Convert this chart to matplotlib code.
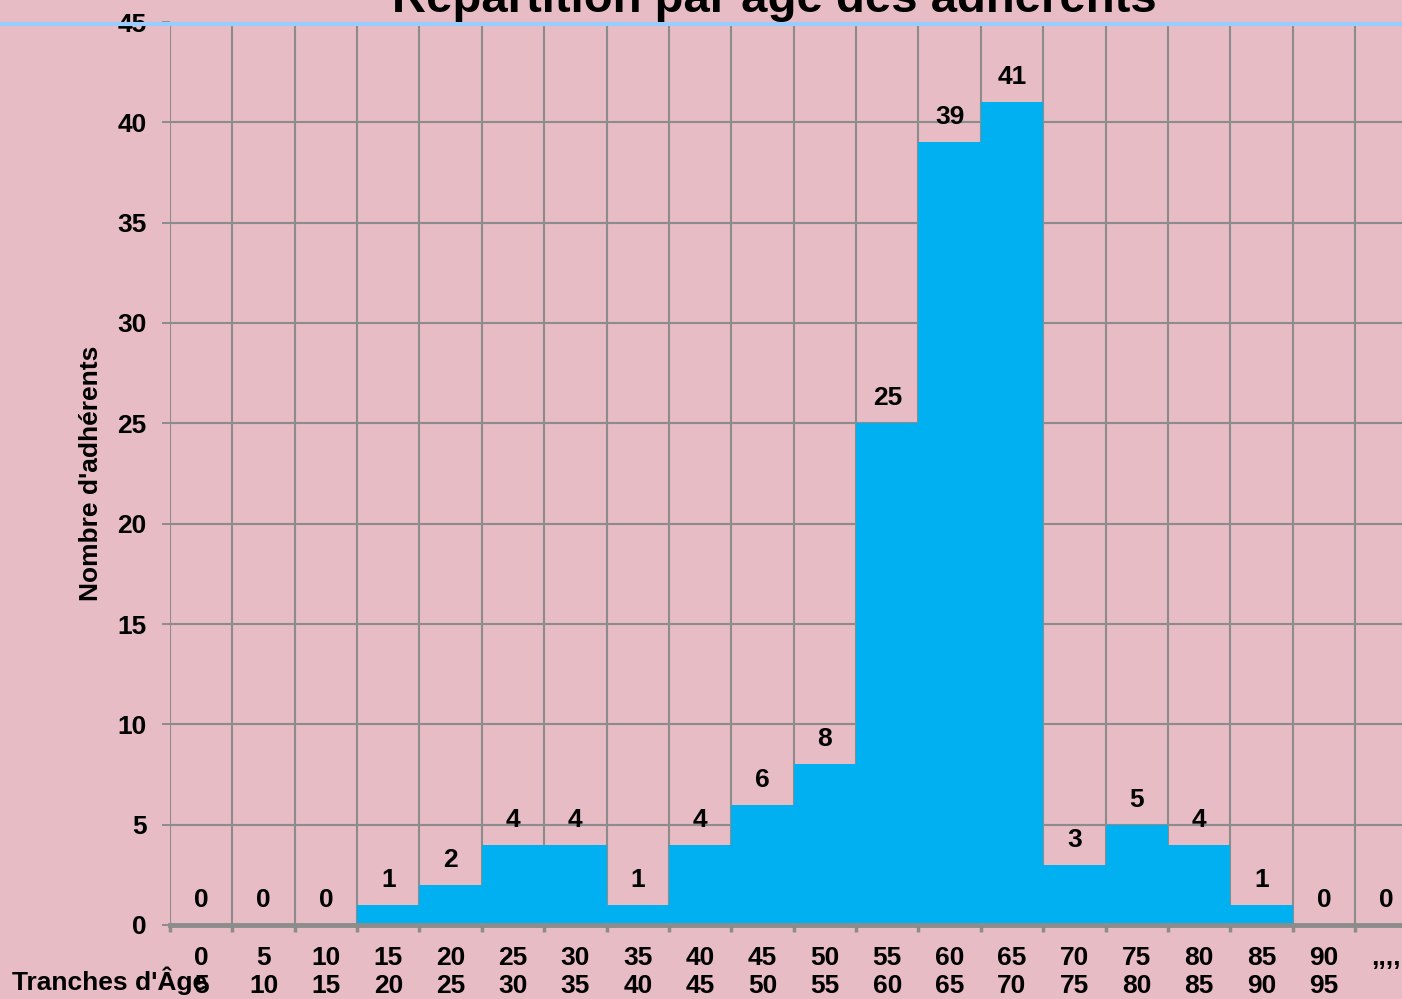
import numpy as np
import matplotlib.pyplot as plt
from matplotlib.lines import Line2D

# age bands and number of members
tranches = ["0\n5", "5\n10", "10\n15", "15\n20", "20\n25", "25\n30", "30\n35",
            "35\n40", "40\n45", "45\n50", "50\n55", "55\n60", "60\n65", "65\n70",
            "70\n75", "75\n80", "80\n85", "85\n90", "90\n95", ",,,,"]
adherents = [0, 0, 0, 1, 2, 4, 4, 1, 4, 6, 8, 25, 39, 41, 3, 5, 4, 1, 0, 0]

pink = "#E7BCC4"
grid_grey = "#8C8C8C"
bar_blue = "#00B0F0"
fs = 19

plt.rcParams["font.family"] = ["Liberation Sans", "DejaVu Sans"]
plt.rcParams["font.weight"] = "bold"

fig = plt.figure(figsize=(14.02, 9.99), dpi=100, facecolor=pink)
ax = fig.add_axes([170 / 1402, 74 / 999, 1247.4 / 1402, 903 / 999])
ax.set_facecolor(pink)
ax.set_axisbelow(True)

x = np.arange(len(adherents))
ax.bar(x, adherents, width=1.0, color=bar_blue, edgecolor="none", zorder=2)

# value labels above each bar
for xi, v in zip(x, adherents):
    ax.annotate(str(v), (xi, v), xytext=(0, 18), textcoords="offset points",
                ha="center", va="center", fontsize=fs, fontweight="bold",
                zorder=3)

ax.set_xlim(-0.5, len(adherents) - 0.5)
ax.set_ylim(0, 45)
ax.set_yticks(np.arange(0, 46, 5))
ax.set_xticks(x)
ax.set_xticklabels(tranches, linespacing=1.22)
ax.set_xticks(np.arange(-0.5, len(adherents)), minor=True)

ax.tick_params(axis="x", which="major", length=0, pad=15, labelsize=fs)
ax.tick_params(axis="x", which="minor", length=5, width=2.5,
               color=grid_grey, direction="out")
ax.tick_params(axis="y", length=6, width=1.4, color=grid_grey,
               pad=11, labelsize=fs)
for lbl in ax.get_xticklabels() + ax.get_yticklabels():
    lbl.set_fontweight("bold")

ax.grid(axis="y", which="major", color=grid_grey, linewidth=1.5)
ax.grid(axis="x", which="minor", color=grid_grey, linewidth=1.5)

for side in ["left", "right", "top"]:
    ax.spines[side].set_visible(False)
ax.spines["bottom"].set_color(grid_grey)
ax.spines["bottom"].set_linewidth(3.5)
ax.spines["bottom"].set_zorder(4)

ax.set_ylabel("Nombre d'adhérents", fontsize=19, fontweight="bold", labelpad=10)

# light blue rule along the top of the plot area
fig.add_artist(Line2D([0, 1], [1 - 24 / 999, 1 - 24 / 999],
                      color="#99CCFF", linewidth=3, transform=fig.transFigure))

fig.text(774 / 1402, 1 - 12 / 999, "Répartition par âge des adhérents",
         ha="center", va="baseline", fontsize=34, fontweight="bold")
fig.text(12 / 1402, 1 - 990 / 999, "Tranches d'Âge", ha="left",
         va="baseline", fontsize=19, fontweight="bold")

fig.savefig("out.png", dpi=100, facecolor=pink)
